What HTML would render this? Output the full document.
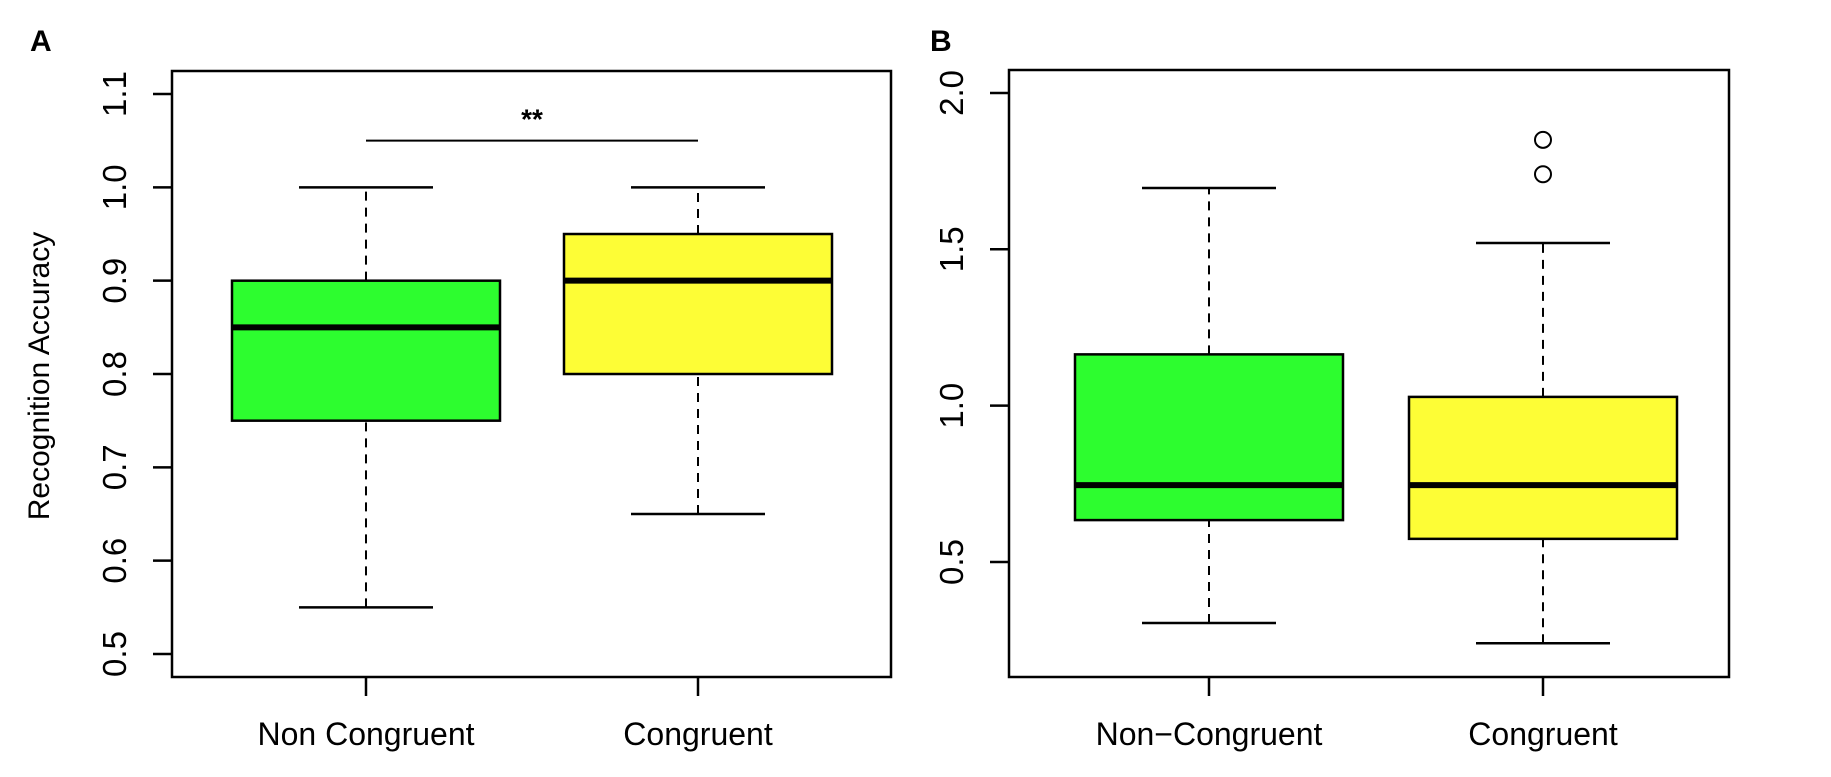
<!DOCTYPE html>
<html><head><meta charset="utf-8"><style>body{margin:0;background:#fff}svg{display:block;font-family:"Liberation Sans",sans-serif}</style></head>
<body>
<svg id="chart" width="1831" height="777" viewBox="0 0 1831 777"></svg>
<script>
const categoriesA = ["Non Congruent", "Congruent"];
const statsA = [[0.55, 0.75, 0.85, 0.90, 1.00], [0.65, 0.80, 0.90, 0.95, 1.00]];
const ticksA = [0.5, 0.6, 0.7, 0.8, 0.9, 1.0, 1.1];
const tickLabelsA = ["0.5", "0.6", "0.7", "0.8", "0.9", "1.0", "1.1"];
const sigLevelA = 1.05;
const categoriesB = ["Non\u2212Congruent", "Congruent"];
const statsB = [[0.305, 0.634, 0.746, 1.164, 1.696], [0.24, 0.574, 0.746, 1.028, 1.52]];
const outliersB = [[], [1.74, 1.85]];
const ticksB = [0.5, 1.0, 1.5, 2.0];
const tickLabelsB = ["0.5", "1.0", "1.5", "2.0"];
const colors = ["#2dfd2f", "#fdfd36"];

const svg = document.getElementById('chart');
const NS = 'http://www.w3.org/2000/svg';
function mk(tag, attrs, name, parent) {
  const e = document.createElementNS(NS, tag);
  for (const k in attrs) e.setAttribute(k, attrs[k]);
  
  
  (parent || svg).appendChild(e);
  return e;
}
function panel(p) {
  const g = mk('g', {}, p.name);
  const y = v => p.y0 - (v - p.v0) * p.k;
  mk('rect', {x: p.left, y: p.top, width: p.right - p.left, height: p.bottom - p.top, fill: 'none', stroke: '#000', 'stroke-width': 2.5}, 'plot-frame', g);
  p.ticks.forEach((t, i) => {
    mk('line', {x1: p.left - 19, x2: p.left, y1: y(t), y2: y(t), stroke: '#000', 'stroke-width': 2.5}, 'y-tick', g);
    const bx = p.left - 46;
    const tx = mk('text', {x: bx, y: y(t), 'font-size': 33, 'text-anchor': 'middle', transform: `rotate(-90 ${bx} ${y(t)})`}, 'y-tick-label', g);
    tx.textContent = p.tickLabels[i];
  });
  p.stats.forEach((s, i) => {
    const cx = p.centers[i], hw = 134, cw = 67;
    mk('line', {x1: cx, x2: cx, y1: y(s[0]), y2: y(s[1]), stroke: '#000', 'stroke-width': 2, 'stroke-dasharray': '9,7'}, 'lower-whisker', g);
    mk('line', {x1: cx, x2: cx, y1: y(s[3]), y2: y(s[4]), stroke: '#000', 'stroke-width': 2, 'stroke-dasharray': '9,7'}, 'upper-whisker', g);
    mk('line', {x1: cx - cw, x2: cx + cw, y1: y(s[0]), y2: y(s[0]), stroke: '#000', 'stroke-width': 2.5}, 'min-cap', g);
    mk('line', {x1: cx - cw, x2: cx + cw, y1: y(s[4]), y2: y(s[4]), stroke: '#000', 'stroke-width': 2.5}, 'max-cap', g);
    mk('rect', {x: cx - hw, y: y(s[3]), width: 2 * hw, height: y(s[1]) - y(s[3]), fill: colors[i], stroke: '#000', 'stroke-width': 2.5}, 'box-' + (i + 1), g);
    mk('line', {x1: cx - hw, x2: cx + hw, y1: y(s[2]), y2: y(s[2]), stroke: '#000', 'stroke-width': 6}, 'median-line', g);
    (p.outliers ? p.outliers[i] : []).forEach(o => {
      mk('circle', {cx: cx, cy: y(o), r: 8, fill: '#fff', stroke: '#000', 'stroke-width': 2}, 'outlier-point', g);
    });
    mk('line', {x1: cx, x2: cx, y1: p.bottom, y2: p.bottom + 19, stroke: '#000', 'stroke-width': 2.5}, 'x-tick', g);
    const t = mk('text', {x: cx, y: 745, 'font-size': 32, 'text-anchor': 'middle'}, 'x-tick-label', g);
    t.textContent = p.cats[i];
  });
  const L = mk('text', {x: p.labelX, y: 51, 'font-size': 30, 'font-weight': 'bold'}, 'panel-label', g);
  L.textContent = p.label;
  return y;
}
const yA = panel({name: 'panel-a', label: 'A', labelX: 30, left: 172, right: 891, top: 71, bottom: 677, y0: 654, v0: 0.5, k: 933.3,
  ticks: ticksA, tickLabels: tickLabelsA, stats: statsA, centers: [366, 698], cats: categoriesA});
const yB = panel({name: 'panel-b', label: 'B', labelX: 930, left: 1009, right: 1729, top: 70, bottom: 677, y0: 562, v0: 0.5, k: 312.7,
  ticks: ticksB, tickLabels: tickLabelsB, stats: statsB, centers: [1209, 1543], cats: categoriesB, outliers: outliersB});
mk('line', {x1: 366, x2: 698, y1: yA(sigLevelA), y2: yA(sigLevelA), stroke: '#000', 'stroke-width': 2}, 'significance-bar');
const st = mk('text', {x: 532, y: yA(sigLevelA) - 12, 'font-size': 28, 'text-anchor': 'middle', 'font-weight': 'bold'}, 'significance-stars');
st.textContent = '**';
const yt = mk('text', {x: 49, y: 376, 'font-size': 30, 'text-anchor': 'middle', transform: 'rotate(-90 49 376)'}, 'y-axis-title');
yt.textContent = 'Recognition Accuracy';
</script>
</body></html>
